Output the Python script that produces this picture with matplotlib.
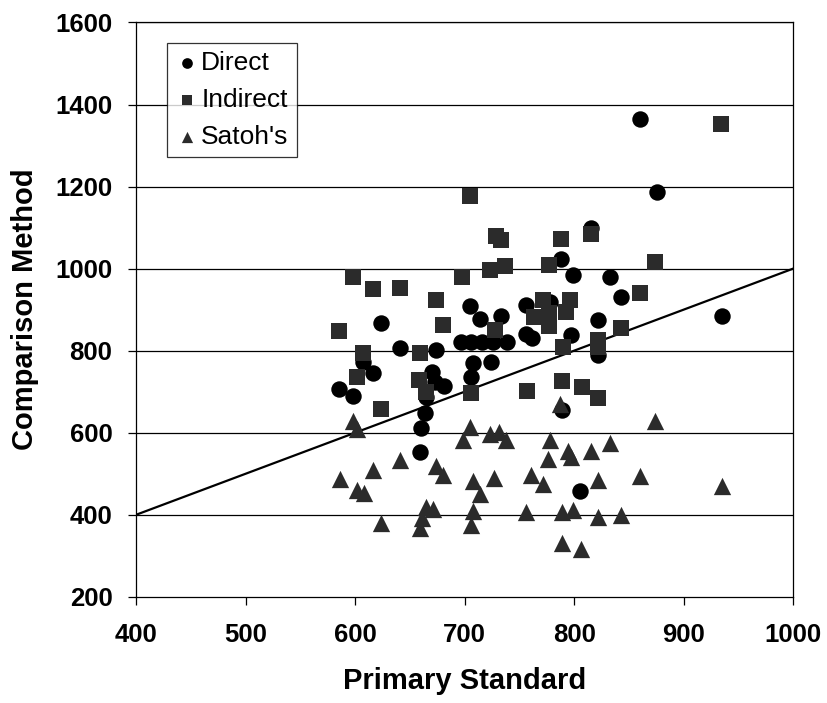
import numpy as np
import matplotlib
matplotlib.use("Agg")
import matplotlib.pyplot as plt

plt.rcParams["font.family"] = ["Liberation Sans", "DejaVu Sans"]

# Direct method results
direct_x = [585, 598, 607, 616, 624, 641, 659, 660, 664, 665, 670, 673, 674, 681,
            697, 705, 706, 706, 708, 714, 716, 724, 726, 733, 739, 756, 756, 762,
            778, 789, 797, 799, 805, 815, 788, 822, 822, 833, 843, 860, 876, 935]
direct_y = [707, 690, 773, 745, 868, 806, 554, 611, 647, 686, 749, 724, 802, 714,
            821, 910, 821, 735, 769, 877, 821, 773, 821, 885, 821, 911, 840, 832,
            918, 655, 838, 985, 459, 1098, 1024, 875, 790, 979, 930, 1364, 1188, 885]

# Indirect method results
indirect_x = [585, 598, 602, 607, 616, 624, 641, 659, 658, 665, 674, 680, 698, 705,
              706, 723, 728, 729, 733, 737, 757, 763, 772, 777, 777, 777, 788, 790,
              793, 796, 789, 807, 815, 822, 822, 822, 843, 860, 874, 934]
indirect_y = [849, 980, 737, 795, 950, 658, 953, 794, 729, 700, 924, 863, 980, 1178,
              697, 997, 850, 1080, 1070, 1007, 701, 883, 924, 891, 859, 1009, 1072, 810,
              895, 924, 725, 712, 1085, 826, 810, 684, 855, 940, 1017, 1353]

# Satoh's method results
satoh_x = [598, 602, 586, 616, 602, 608, 624, 641, 659, 661, 665, 671, 674, 680,
           699, 705, 708, 708, 706, 714, 723, 727, 731, 738, 756, 761, 772, 776,
           778, 787, 789, 789, 794, 797, 799, 806, 815, 822, 822, 833, 843, 860,
           874, 935]
satoh_y = [629, 609, 487, 509, 460, 452, 381, 534, 369, 393, 420, 414, 519, 498,
           582, 615, 483, 410, 376, 450, 598, 489, 601, 582, 406, 498, 475, 536,
           582, 670, 407, 331, 556, 541, 411, 316, 556, 485, 395, 576, 400, 495,
           629, 471]

x_ticks = [400, 500, 600, 700, 800, 900, 1000]
y_ticks = [200, 400, 600, 800, 1000, 1200, 1400, 1600]

fig = plt.figure(figsize=(8.27, 7.03), dpi=100)
ax = fig.add_axes([0.1645, 0.151, 0.7945, 0.817])

# horizontal grid
for yv in y_ticks[1:]:
    ax.axhline(yv, color="black", linewidth=0.9, zorder=1)

# line of identity
ax.plot([400, 1000], [400, 1000], color="black", linewidth=1.6, zorder=2)

ax.scatter(direct_x, direct_y, s=140, marker="o", color="black",
           linewidths=0, zorder=3, label="Direct")
ax.scatter(indirect_x, indirect_y, s=125, marker="s", color="#2b2b2b",
           linewidths=0, zorder=3, label="Indirect")
ax.scatter(satoh_x, satoh_y, s=155, marker="^", color="#2b2b2b",
           linewidths=0, zorder=3, label="Satoh's")

ax.set_xlim(400, 1000)
ax.set_ylim(200, 1600)
ax.set_xticks(x_ticks)
ax.set_yticks(y_ticks)
ax.tick_params(axis="both", direction="out", length=6, width=0.9, labelsize=18.5)
ax.tick_params(axis="y", pad=11)
ax.tick_params(axis="x", pad=13)
for lab in ax.get_xticklabels() + ax.get_yticklabels():
    lab.set_fontweight("bold")

for sp in ax.spines.values():
    sp.set_linewidth(0.9)
    sp.set_color("black")

ax.set_xlabel("Primary Standard", fontsize=21, fontweight="bold", labelpad=14)
ax.set_ylabel("Comparison Method", fontsize=21, fontweight="bold", labelpad=12)

leg = ax.legend(loc="upper left", bbox_to_anchor=(0.047, 0.965),
                borderaxespad=0, fontsize=19, frameon=True, fancybox=False,
                handletextpad=0.1, labelspacing=0.5, borderpad=0.3,
                handlelength=0.9, markerscale=0.65)
leg.get_frame().set_edgecolor("black")
leg.get_frame().set_linewidth(0.9)

fig.savefig("out.png", dpi=100)
